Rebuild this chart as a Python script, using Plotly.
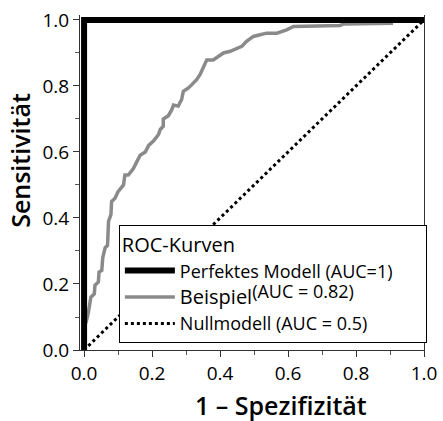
import plotly.graph_objects as go

# ---- data ----
beispiel_fpr = [0.0, 0.0, 0.006, 0.012, 0.02, 0.03, 0.032, 0.042, 0.044, 0.052, 0.055, 0.062,
                0.069, 0.072, 0.079, 0.081, 0.091, 0.10, 0.116, 0.12, 0.13, 0.145, 0.155,
                0.165, 0.18, 0.19, 0.204, 0.219, 0.224, 0.233, 0.233, 0.248, 0.258, 0.263,
                0.277, 0.287, 0.292, 0.307, 0.317, 0.331, 0.341, 0.351, 0.356, 0.361, 0.38,
                0.395, 0.41, 0.43, 0.449, 0.464, 0.478, 0.498, 0.518, 0.537, 0.567, 0.596,
                0.616, 0.753, 0.763, 0.909]
beispiel_tpr = [0.0, 0.085, 0.085, 0.11, 0.16, 0.17, 0.196, 0.206, 0.236, 0.241, 0.28, 0.31,
                0.317, 0.39, 0.41, 0.45, 0.46, 0.48, 0.50, 0.53, 0.53, 0.55, 0.57,
                0.59, 0.60, 0.62, 0.633, 0.653, 0.668, 0.678, 0.70, 0.71, 0.728, 0.742,
                0.739, 0.759, 0.784, 0.794, 0.804, 0.819, 0.834, 0.854, 0.866, 0.879, 0.879,
                0.889, 0.90, 0.905, 0.915, 0.92, 0.935, 0.95, 0.955, 0.96, 0.96, 0.97,
                0.98, 0.983, 0.988, 0.99]
perfekt_fpr = [0.0, 0.0, 1.0]
perfekt_tpr = [0.0, 1.0, 1.0]
null_fpr = [0.0, 1.0]
null_tpr = [0.0, 1.0]

tick_vals = [0.0, 0.2, 0.4, 0.6, 0.8, 1.0]
tick_text = ["0.0", "0.2", "0.4", "0.6", "0.8", "1.0"]

name_perfekt = "Perfektes Modell (AUC=1)" + "&nbsp;" * 6
name_beispiel = ('<span style="font-size:20px">Beispiel</span>'
                 '<span style="baseline-shift:6px">(AUC = 0.82)</span>')
name_null = "Nullmodell (AUC = 0.5)"
legend_title = "ROC-Kurven"
x_title = "1 – Spezifizität"
y_title = "Sensitivität"

FONT = "Open Sans"

fig = go.Figure()
fig.add_trace(go.Scatter(x=null_fpr, y=null_tpr, mode="lines", name=name_null,
                         line=dict(color="black", width=3, dash="dot"), legendrank=3))
fig.add_trace(go.Scatter(x=beispiel_fpr, y=beispiel_tpr, mode="lines", name=name_beispiel,
                         line=dict(color="#8a8a8a", width=3.5), legendrank=2))
fig.add_trace(go.Scatter(x=perfekt_fpr, y=perfekt_tpr, mode="lines", name=name_perfekt,
                         line=dict(color="black", width=6), legendrank=1))

axis_common = dict(
    showgrid=False, zeroline=False, showline=True, linecolor="#333", linewidth=1,
    automargin=False,
    ticks="outside", ticklen=6, tickcolor="#333", tickwidth=1,
    tickvals=tick_vals, ticktext=tick_text,
    tickfont=dict(family=FONT, size=19, color="black"),
    minor=dict(tickvals=[0.1, 0.3, 0.5, 0.7, 0.9], ticks="outside", ticklen=4,
               tickcolor="#555", tickwidth=1),
)

fig.update_layout(
    width=443, height=421, autosize=False,
    margin=dict(l=80, r=19, t=15, b=71),
    paper_bgcolor="white", plot_bgcolor="white",
    font=dict(family=FONT, color="black"),
    xaxis=dict(range=[-0.012, 1.0], **axis_common, mirror=False),
    yaxis=dict(range=[0, 1.015], **axis_common, mirror=True),
    showlegend=True,
    legend=dict(
        x=0.113, y=0.372, xanchor="left", yanchor="top",
        bgcolor="white", bordercolor="black", borderwidth=1,
        font=dict(family=FONT, size=18, color="black"),
        title=dict(text=legend_title, font=dict(family=FONT, size=20, color="black")),
        itemwidth=50, tracegroupgap=0,
    ),
    annotations=[
        dict(text=x_title, xref="paper", yref="paper", x=0.584, y=-0.164,
             xanchor="center", yanchor="middle", showarrow=False,
             font=dict(family=FONT, size=25, color="black", weight=600)),
        dict(text=y_title, xref="paper", yref="paper", x=-0.175, y=0.567,
             xanchor="center", yanchor="middle", showarrow=False, textangle=-90,
             font=dict(family=FONT, size=25, color="black", weight=600)),
    ],
)

fig.write_html("out.html", config={"responsive": False, "displayModeBar": False},
               post_script="document.body.style.margin='0px';")
